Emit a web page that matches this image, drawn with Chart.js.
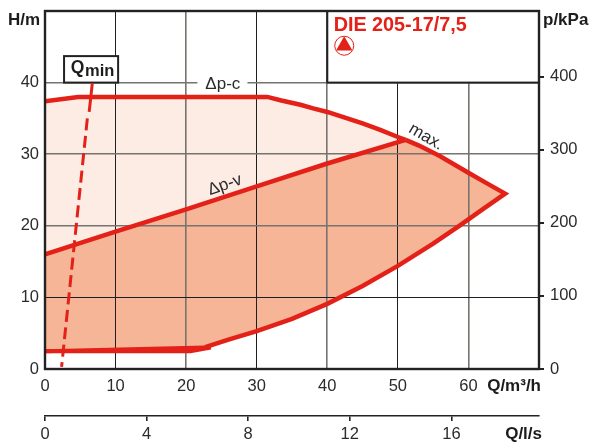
<!DOCTYPE html>
<html>
<head>
<meta charset="utf-8">
<style>
  html, body { margin: 0; padding: 0; background: #fff; }
  canvas { display: block; }
</style>
<script src="https://cdn.jsdelivr.net/npm/chart.js@4"></script>
</head>
<body>
<canvas id="pumpChart" width="592" height="447"></canvas>
<script>
// tick labels
const flowTicks = [0, 10, 20, 30, 40, 50, 60];
const litreTicks = [0, 4, 8, 12, 16];
const headTicks = [0, 10, 20, 30, 40];
const pressureTicks = [0, 100, 200, 300, 400];

// curves, Q in m3/h and H in m
const dpcX = [0, 4.7, 31.5, 33.5, 36.2, 38, 40, 42.5, 45, 47.5, 50, 51.1];
const dpcY = [37.4, 38, 38, 37.5, 36.9, 36.4, 35.9, 35.1, 34.3, 33.4, 32.4, 32];
const maxX = [51.1, 53, 56, 60, 62.5, 65.2];
const maxY = [32, 31.2, 29.7, 27.4, 26, 24.5];
const dpvX = [0, 10, 20, 30, 40, 51.1];
const dpvY = [16, 19.2, 22.3, 25.5, 28.7, 32];
const lowerX = [65.2, 62, 58.7, 55, 50, 45, 40, 35, 30, 26, 22.7];
const lowerY = [24.5, 22.3, 20.0, 17.5, 14.4, 11.6, 9.1, 7.0, 5.3, 4.1, 3.05];
const wedgeTopX = [0, 22.7];
const wedgeTopY = [2.47, 3.0];
const wedgeBottomX = [0, 20.6, 23.5];
const wedgeBottomY = [2.47, 2.47, 3.0];
const qminSolidX = [6.7, 6.26];
const qminSolidY = [39.9, 35.9];
const qminDashX = [6.0, 2.35];
const qminDashY = [35, 0.3];

const iconX = [42.4];
const iconY = [45.15];

const RED = "#e42118";
const FONT = "'Liberation Sans', Arial, sans-serif";
const INK = "#2b2b2b";

function pts(xs, ys) {
  return xs.map((x, i) => ({ x: x, y: ys[i] }));
}

function curve(xs, ys, width, dash) {
  return {
    data: pts(xs, ys),
    showLine: true,
    borderColor: RED,
    borderWidth: width,
    borderDash: dash || [],
    borderJoinStyle: "miter",
    pointRadius: 0,
    fill: false,
  };
}

function area(points, color) {
  return {
    data: points,
    showLine: true,
    borderWidth: 0,
    borderColor: color,
    backgroundColor: color,
    pointRadius: 0,
    fill: "shape",
  };
}

const palePoly = pts(dpcX, dpcY).concat(pts(dpvX, dpvY).reverse());
const darkPoly = pts(dpvX, dpvY)
  .concat(pts(maxX, maxY))
  .concat(pts(lowerX, lowerY))
  .concat(pts(wedgeBottomX, wedgeBottomY).reverse());

// fixed axis band, and no extra room for half labels at the ends
function fixSize(prop, size) {
  return (scale) => {
    scale[prop] = size;
    scale.paddingTop = 0;
    scale.paddingBottom = 0;
    scale.paddingLeft = 0;
    scale.paddingRight = 0;
  };
}

function setTicks(values) {
  return (scale) => {
    scale.ticks = values.map((v) => ({ value: v }));
  };
}

// grid lines alternate between a crisp dark one and a soft grey double one
function gridColor(soft) {
  return (ctx) => (soft.includes(ctx.tick.value) ? "#77736f" : "#1f1f1f");
}
function gridWidth(soft) {
  return (ctx) => (soft.includes(ctx.tick.value) ? 1.6 : 1);
}

const boxes = {
  id: "boxes",
  beforeDatasetsDraw(chart) {
    const c = chart.ctx;
    const x = chart.scales.x;
    const y = chart.scales.y;
    c.save();
    // model box
    c.fillStyle = "#fff";
    c.strokeStyle = "#222";
    c.lineWidth = 2;
    const bx = x.getPixelForValue(40);
    const by = y.getPixelForValue(50);
    c.fillRect(bx, by, x.right - bx, y.getPixelForValue(40) - by);
    c.strokeRect(bx, by, x.right - bx, y.getPixelForValue(40) - by);
    // Qmin box
    const qx = x.getPixelForValue(2.7);
    const qy = y.getPixelForValue(43.7);
    const qw = x.getPixelForValue(10.36) - qx;
    const qh = y.getPixelForValue(40) - qy;
    c.fillRect(qx, qy, qw, qh);
    c.strokeRect(qx, qy, qw, qh);
    // gap in the 40 m line behind the dp-c label
    c.fillRect(x.getPixelForValue(21.6), y.getPixelForValue(41), 50, 14);
    c.restore();
  },
};

const labels = {
  id: "labels",
  afterDatasetsDraw(chart) {
    const c = chart.ctx;
    const x = chart.scales.x;
    const y = chart.scales.y;
    const a = chart.chartArea;
    c.save();
    c.strokeStyle = "#222";
    c.lineWidth = 2.4;
    c.strokeRect(a.left, a.top, a.right - a.left, a.bottom - a.top);

    c.textBaseline = "alphabetic";
    c.fillStyle = "#1c1c1c";
    c.font = "bold 17px " + FONT;
    c.textAlign = "left";
    c.fillText("H/m", 8, 25);
    c.fillText("p/kPa", a.right + 4, 25);
    c.textAlign = "right";
    c.fillText("Q/m³/h", a.right + 2, a.bottom + 22);
    c.fillText("Q/l/s", a.right + 3, a.bottom + 70);

    c.textAlign = "left";
    c.font = "bold 17.5px " + FONT;
    c.fillText("Q", x.getPixelForValue(3.65), y.getPixelForValue(41.4));
    c.font = "bold 16.5px " + FONT;
    c.fillText("min", x.getPixelForValue(5.68), y.getPixelForValue(40.9));

    c.fillStyle = RED;
    c.font = "bold 19.8px " + FONT;
    c.fillText("DIE 205-17/7,5", x.getPixelForValue(40.9), y.getPixelForValue(47.2));

    c.fillStyle = INK;
    c.font = "17px " + FONT;
    c.textAlign = "center";
    c.textBaseline = "middle";
    note(c, "Δp-c", x.getPixelForValue(25.2), y.getPixelForValue(39.8), 0);
    note(c, "Δp-v", x.getPixelForValue(25.5), y.getPixelForValue(25.7), -19.5);
    note(c, "max.", x.getPixelForValue(54), y.getPixelForValue(32.4), 30);
    c.restore();
  },
};

function note(c, text, px, py, deg) {
  c.save();
  c.translate(px, py);
  c.rotate((deg * Math.PI) / 180);
  c.fillText(text, 0, 0);
  c.restore();
}

const tickFont = { family: FONT, size: 16.5 };

new Chart(document.getElementById("pumpChart"), {
  type: "scatter",
  data: {
    datasets: [
      {
        data: pts(iconX, iconY),
        pointStyle: "triangle",
        pointRadius: 9.5,
        pointBackgroundColor: RED,
        pointBorderColor: RED,
        pointBorderWidth: 0,
      },
      {
        data: pts(iconX, iconY),
        pointStyle: "circle",
        pointRadius: 9.5,
        pointBackgroundColor: "#fff",
        pointBorderColor: RED,
        pointBorderWidth: 1,
      },
      curve(dpcX, dpcY, 4.5),
      curve(maxX.concat(lowerX.slice(1)), maxY.concat(lowerY.slice(1)), 4.5),
      curve(dpvX, dpvY, 4.5),
      curve(wedgeTopX, wedgeTopY, 4),
      curve(wedgeBottomX, wedgeBottomY, 4),
      curve(qminSolidX, qminSolidY, 3),
      curve(qminDashX, qminDashY, 3, [12, 5.5]),
      area(palePoly, "#fdece3"),
      area(darkPoly, "#f5b596"),
    ],
  },
  plugins: [boxes, labels],
  options: {
    responsive: false,
    animation: false,
    events: [],
    layout: { padding: { top: 11, left: 0, right: 0, bottom: 0 } },
    plugins: {
      legend: { display: false },
      tooltip: { enabled: false },
      filler: { drawTime: "beforeDraw" },
    },
    scales: {
      x: {
        type: "linear",
        position: "bottom",
        weight: 0,
        min: 0,
        max: 70,
        afterBuildTicks: setTicks(flowTicks),
        afterFit: fixSize("height", 47),
        border: { display: false },
        grid: {
          color: gridColor([20, 40, 60]),
          lineWidth: gridWidth([20, 40, 60]),
          drawTicks: false,
        },
        ticks: {
          maxRotation: 0,
          autoSkip: false,
          padding: 8,
          color: INK,
          font: tickFont,
        },
      },
      xLitres: {
        type: "linear",
        position: "bottom",
        weight: 1,
        min: 0,
        max: 19.45,
        afterBuildTicks: setTicks(litreTicks),
        afterFit: fixSize("height", 31),
        border: { display: true, color: "#222", width: 1.6 },
        grid: { drawOnChartArea: false, color: "#222", lineWidth: 1.6, tickLength: 5 },
        ticks: {
          maxRotation: 0,
          autoSkip: false,
          padding: 4,
          color: INK,
          font: tickFont,
        },
      },
      y: {
        type: "linear",
        position: "left",
        min: 0,
        max: 50,
        afterBuildTicks: setTicks(headTicks),
        afterFit: fixSize("width", 45),
        border: { display: false },
        grid: {
          color: gridColor([20, 30, 40]),
          lineWidth: gridWidth([20, 30, 40]),
          drawTicks: false,
        },
        ticks: { padding: 6, color: INK, font: tickFont },
      },
      p: {
        type: "linear",
        position: "right",
        min: 0,
        max: 490,
        afterBuildTicks: setTicks(pressureTicks),
        afterFit: fixSize("width", 53),
        border: { display: false },
        grid: { drawOnChartArea: false, color: "#222", lineWidth: 2, tickLength: 5 },
        ticks: { padding: 6, color: INK, font: tickFont },
      },
    },
  },
});
</script>
</body>
</html>
